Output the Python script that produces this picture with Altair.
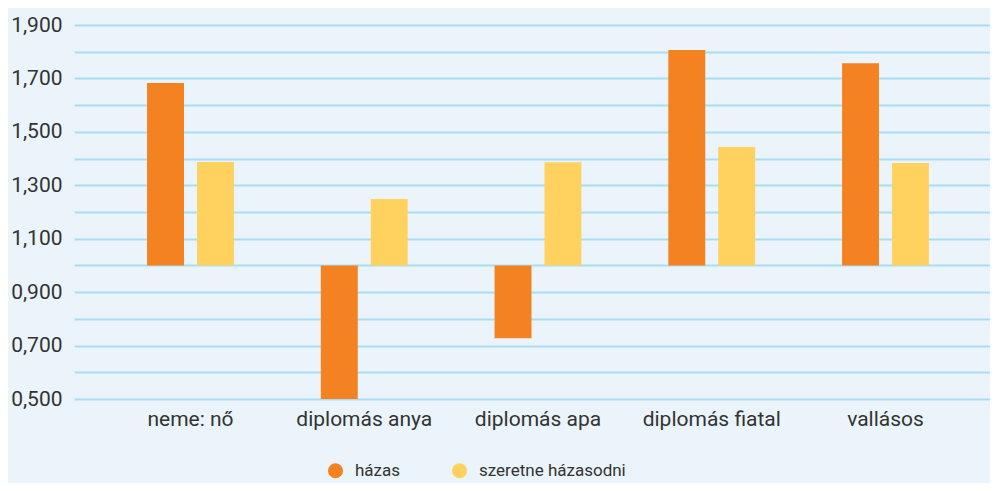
import altair as alt
import pandas as pd

categories = ["neme: nő", "diplomás anya", "diplomás apa", "diplomás fiatal", "vallásos"]
series = ["házas", "szeretne házasodni"]
hazas = [1.683, 0.500, 0.727, 1.806, 1.757]
szeretne = [1.387, 1.249, 1.386, 1.443, 1.383]
baseline = 1.0
y_ticks = [0.5, 0.6, 0.7, 0.8, 0.9, 1.0, 1.1, 1.2, 1.3, 1.4, 1.5, 1.6, 1.7, 1.8, 1.9]

rows = []
for i, c in enumerate(categories):
    rows.append({"cat": c, "series": series[0], "value": hazas[i], "base": baseline})
    rows.append({"cat": c, "series": series[1], "value": szeretne[i], "base": baseline})
df = pd.DataFrame(rows)

FONT = "Roboto"
TXT = "#333333"

chart = alt.Chart(df).mark_bar(opacity=1).encode(
    x=alt.X(
        "cat:N",
        sort=categories,
        scale=alt.Scale(paddingInner=0, paddingOuter=0.136, align=0.627),
        axis=alt.Axis(title=None, labelAngle=0, domain=False, ticks=False, grid=False,
                      labelPadding=9, labelFontSize=21, labelFont=FONT, labelColor=TXT),
    ),
    xOffset=alt.XOffset("series:N", sort=series,
                        scale=alt.Scale(paddingInner=0.26, paddingOuter=0.87)),
    y=alt.Y(
        "value:Q",
        scale=alt.Scale(domain=[0.5, 1.9], zero=False, nice=False),
        axis=alt.Axis(title=None, values=y_ticks, domain=False, ticks=False,
                      grid=True, gridColor="#A9DDF4", gridWidth=2, gridOpacity=1,
                      labelPadding=12, labelFontSize=21, labelFont=FONT, labelColor=TXT,
                      labelExpr="round(datum.value*10) % 2 == 1 ? replace(format(datum.value, '.3f'), '.', ',') : ''"),
    ),
    y2="base:Q",
    color=alt.Color(
        "series:N",
        sort=series,
        scale=alt.Scale(domain=series, range=["#F58220", "#FFD25F"]),
        legend=alt.Legend(title=None, orient="none", legendX=253, legendY=437,
                          direction="horizontal", symbolType="circle", symbolSize=227,
                          symbolStrokeWidth=0, symbolOpacity=1, labelFontSize=17,
                          labelFont=FONT, labelColor=TXT, labelOffset=11,
                          columnPadding=50),
    ),
).properties(
    width=916,
    height=374,
    autosize=alt.AutoSizeParams(type="none"),
    padding={"left": 66, "top": 17, "right": 0, "bottom": 84},
    background="#EBF4FB",
).configure_view(stroke=None)

chart.save("out.html", embed_options={"renderer": "svg", "actions": False})
